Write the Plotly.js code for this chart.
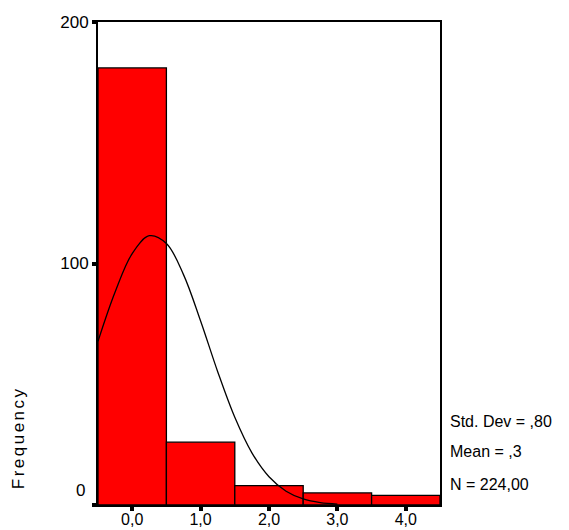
<!DOCTYPE html>
<html>
<head>
<meta charset="utf-8">
<script src="https://cdn.plot.ly/plotly-3.0.1.min.js"></script>
<style>
html,body{margin:0;padding:0;background:#fff;}
#chart{width:569px;height:530px;}
</style>
</head>
<body>
<div id="chart"></div>
<script>
// Histogram bins (centres) and frequencies
const binCenters = [0, 1, 2, 3, 4];
const frequencies = [181, 26, 8, 5, 4];
const xTickVals = [0, 1, 2, 3, 4];
const xTickText = ['0,0', '1,0', '2,0', '3,0', '4,0'];
const yTickVals = [0, 100, 200];
const yTickText = ['', '100', '200'];

// Fitted normal curve
const curveX = [-0.5, -0.25, 0, 0.25, 0.5, 0.75, 1.0, 1.25, 1.5, 1.75, 2.0, 2.25, 2.5, 2.75, 3.0];
const curveY = [67.8, 88.2, 104.1, 111.5, 108.3, 95.4, 76.2, 55.2, 36.3, 21.6, 11.7, 5.7, 2.5, 1.0, 0.4];

const statsLines = ['Std. Dev = ,80', 'Mean = ,3', 'N = 224,00'];

const FONT = 'Arial, "Liberation Sans", sans-serif';

const traces = [
  {
    type: 'bar',
    x: binCenters,
    y: frequencies,
    width: 1,
    marker: {color: '#ff0000', line: {color: '#000000', width: 1.3}},
    hoverinfo: 'skip'
  },
  {
    type: 'scatter',
    mode: 'lines',
    x: curveX,
    y: curveY,
    line: {color: '#000000', width: 1.3, shape: 'spline'},
    hoverinfo: 'skip'
  }
];

const statsY = [421, 451, 484];
const annotations = statsLines.map((t, i) => ({
  text: t, xref: 'paper', yref: 'paper',
  x: (448 - 98) / 342, y: (505 - statsY[i]) / 483,
  xanchor: 'left', yanchor: 'middle', showarrow: false,
  font: {family: FONT, size: 16, color: '#000'}
}));
annotations.push({
  text: 'Frequency', xref: 'paper', yref: 'paper',
  x: (18 - 98) / 342, y: (505 - 438) / 483,
  xanchor: 'center', yanchor: 'middle', textangle: -90, showarrow: false,
  font: {family: FONT, size: 17, color: '#000'}
});
annotations.push({
  text: '0', xref: 'paper', yref: 'y',
  x: 0, y: 0, xshift: -11, yshift: 15,
  xanchor: 'right', yanchor: 'middle', showarrow: false,
  font: {family: FONT, size: 17, color: '#000'}
});

const layout = {
  width: 569, height: 530,
  margin: {l: 98, r: 129, t: 22, b: 25, pad: 0},
  paper_bgcolor: '#ffffff', plot_bgcolor: '#ffffff',
  showlegend: false,
  bargap: 0,
  font: {family: FONT, size: 17, color: '#000'},
  xaxis: {
    range: [-0.5, 4.5], tickvals: xTickVals, ticktext: xTickText,
    showgrid: false, zeroline: false, showline: true, mirror: true,
    linecolor: '#000', linewidth: 2,
    ticks: 'outside', ticklen: 4, tickwidth: 4, tickcolor: '#000',
    ticklabelstandoff: -5,
    tickfont: {family: FONT, size: 16, color: '#000'}
  },
  yaxis: {
    range: [0, 200], tickvals: yTickVals, ticktext: yTickText,
    showgrid: false, zeroline: false, showline: true, mirror: true,
    linecolor: '#000', linewidth: 2,
    ticks: 'outside', ticklen: 4, tickwidth: 4, tickcolor: '#000',
    tickfont: {family: FONT, size: 17, color: '#000'}
  },
  annotations: annotations
};

Plotly.newPlot('chart', traces, layout, {staticPlot: true}).then(() => {
  document.querySelectorAll('.annotation-text').forEach(el => {
    if (el.textContent === 'Frequency') el.style.letterSpacing = '2.5px';
  });
});
</script>
</body>
</html>
